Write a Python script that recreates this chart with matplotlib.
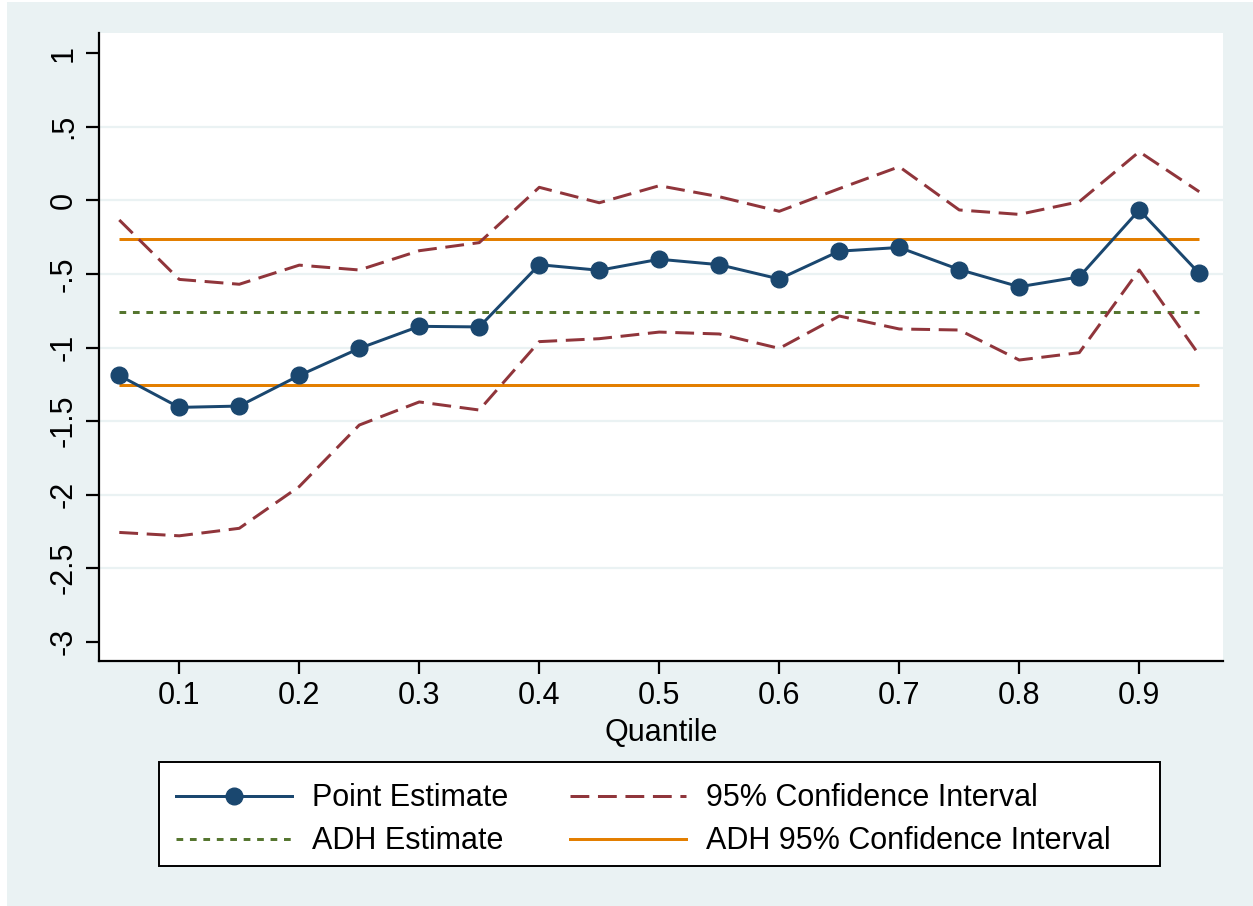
import matplotlib
matplotlib.use("Agg")
import matplotlib.pyplot as plt
from matplotlib.patches import Rectangle
from matplotlib.lines import Line2D

plt.rcParams['font.family'] = ['Liberation Sans', 'DejaVu Sans']

# Quantile regression estimates
quantiles = [0.05, 0.10, 0.15, 0.20, 0.25, 0.30, 0.35, 0.40, 0.45, 0.50,
             0.55, 0.60, 0.65, 0.70, 0.75, 0.80, 0.85, 0.90, 0.95]
point_est = [-1.19, -1.407, -1.398, -1.19, -1.006, -0.856, -0.86, -0.437, -0.475, -0.40,
             -0.437, -0.534, -0.345, -0.32, -0.47, -0.587, -0.52, -0.065, -0.496]
ci_upper = [-0.133, -0.537, -0.57, -0.44, -0.473, -0.342, -0.287, 0.089, -0.016, 0.10,
            0.025, -0.074, 0.08, 0.229, -0.065, -0.095, -0.009, 0.331, 0.059]
ci_lower = [-2.257, -2.28, -2.229, -1.945, -1.527, -1.37, -1.425, -0.96, -0.94, -0.895,
            -0.908, -1.006, -0.786, -0.874, -0.881, -1.085, -1.035, -0.473, -1.051]

# Benchmark (ADH) estimate and its confidence interval
adh_est = -0.761
adh_ci = [-0.265, -1.257]

xticks = [0.1, 0.2, 0.3, 0.4, 0.5, 0.6, 0.7, 0.8, 0.9]
xticklabels = ["0.1", "0.2", "0.3", "0.4", "0.5", "0.6", "0.7", "0.8", "0.9"]
yticks = [1, 0.5, 0, -0.5, -1, -1.5, -2, -2.5, -3]
yticklabels = ["1", ".5", "0", "-.5", "-1", "-1.5", "-2", "-2.5", "-3"]

NAVY = "#1A476F"
MAROON = "#90353B"
GREEN = "#55752F"
ORANGE = "#E37E00"
BG = "#EAF2F3"

FS = 22
LW = 2.15
MS = 12
CI_DASH = (6.3, 2.9)
ADH_DASH = (2.25, 2.25)

W, H = 1253, 906
fig = plt.figure(figsize=(W / 100, H / 100), dpi=100, facecolor="white")
fig.patches.append(Rectangle((7 / W, 0), 1 - 7 / W, 1 - 2 / H,
                             transform=fig.transFigure, facecolor=BG,
                             edgecolor="none", zorder=-10))

ax = fig.add_axes([99 / W, 1 - 661 / H, (1223 - 99) / W, (661 - 33) / H])
ax.set_facecolor("white")

x0, x1 = quantiles[0], quantiles[-1]
ax.plot([x0, x1], [adh_ci[0], adh_ci[0]], color=ORANGE, lw=LW, solid_capstyle="butt", zorder=2)
ax.plot([x0, x1], [adh_ci[1], adh_ci[1]], color=ORANGE, lw=LW, solid_capstyle="butt", zorder=2)
ax.plot([x0, x1], [adh_est, adh_est], color=GREEN, lw=LW, dashes=ADH_DASH, zorder=2)
ax.plot(quantiles, ci_upper, color=MAROON, lw=LW, dashes=CI_DASH, zorder=3)
ax.plot(quantiles, ci_lower, color=MAROON, lw=LW, dashes=CI_DASH, zorder=3)
ax.plot(quantiles, point_est, color=NAVY, lw=LW, marker="o", markersize=MS, zorder=4)

ax.set_xlim(0.0331, 0.9698)
ax.set_ylim(-3.131, 1.138)

ax.set_xticks(xticks)
ax.set_xticklabels(xticklabels)
ax.set_yticks(yticks)
ax.set_yticklabels(yticklabels, rotation=90, va="center")

for s in ["top", "right"]:
    ax.spines[s].set_visible(False)
for s in ["left", "bottom"]:
    ax.spines[s].set_linewidth(1.6)
    ax.spines[s].set_color("black")

ax.tick_params(axis="both", direction="out", length=9.5, width=1.6, labelsize=FS)
ax.tick_params(axis="x", pad=5)
ax.tick_params(axis="y", pad=5)

for yv in yticks[1:-1]:
    ax.axhline(yv, color=BG, lw=1.6, zorder=0)

ax.set_xlabel("Quantile", fontsize=FS, labelpad=5)

# Legend box
LX0, LX1, LY0, LY1 = 159, 1160, 762, 866
fig.patches.append(Rectangle((LX0 / W, 1 - LY1 / H), (LX1 - LX0) / W, (LY1 - LY0) / H,
                             transform=fig.transFigure, facecolor="white",
                             edgecolor="black", lw=1.4, zorder=1))

pe_handle = Line2D([0, 0.5, 1], [0, 0, 0], color=NAVY, lw=LW, marker="o",
                   markersize=MS, markevery=[1])
ci_handle = Line2D([], [], color=MAROON, lw=LW, dashes=CI_DASH)
adh_handle = Line2D([], [], color=GREEN, lw=LW, dashes=ADH_DASH)
adhci_handle = Line2D([], [], color=ORANGE, lw=LW)

# column-wise fill: left column first, then right column
handles = [pe_handle, adh_handle, ci_handle, adhci_handle]
labels = ["Point Estimate", "ADH Estimate", "95% Confidence Interval", "ADH 95% Confidence Interval"]

leg = fig.legend(handles, labels, ncol=2, loc="upper left",
                 bbox_to_anchor=((LX0 + 2) / W, 1 - (LY0 + 6) / H),
                 fontsize=FS, frameon=False,
                 handlelength=3.8, handletextpad=0.65, borderpad=0.5,
                 labelspacing=0.43, columnspacing=2.0, borderaxespad=0)
leg.set_zorder(2)

fig.savefig("out.png", dpi=100, facecolor=fig.get_facecolor())
